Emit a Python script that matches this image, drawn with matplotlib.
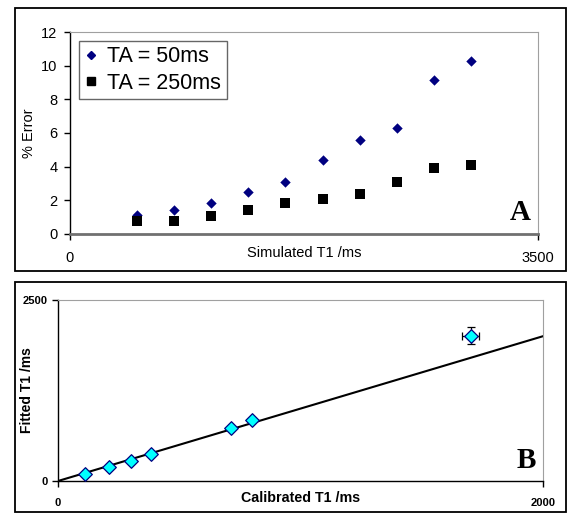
import matplotlib
matplotlib.use("Agg")
import matplotlib.pyplot as plt
from matplotlib.patches import Rectangle
from matplotlib.lines import Line2D

plt.rcParams['font.family'] = ['Liberation Sans', 'DejaVu Sans']

# ---------- Data ----------
sim_t1 = [500, 778, 1056, 1333, 1611, 1889, 2167, 2444, 2722, 3000]
err_ta50 = [1.10, 1.44, 1.87, 2.48, 3.11, 4.37, 5.57, 6.30, 9.17, 10.26]
err_ta250 = [0.75, 0.79, 1.04, 1.40, 1.85, 2.09, 2.36, 3.11, 3.90, 4.11]
series_labels = ["TA = 50ms", "TA = 250ms"]

cal_t1 = [113, 209, 302, 384, 715, 801, 1702]
fit_t1 = [101, 188, 275, 376, 734, 844, 2009]
cal_err = [0, 0, 0, 0, 0, 0, 35]
fit_err = [0, 0, 0, 0, 0, 0, 115]
line_x = [0, 2000]
line_y = [0, 2000]

W, H = 573, 514
fig = plt.figure(figsize=(W / 100, H / 100), dpi=100)
fig.patch.set_facecolor("white")


def fx(px):
    return px / W


def fy(py):
    return 1 - py / H


def frame(x0, y0, x1, y1):
    fig.add_artist(Rectangle((fx(x0), fy(y1)), fx(x1) - fx(x0), fy(y0) - fy(y1),
                             transform=fig.transFigure, fill=False,
                             edgecolor="black", linewidth=1.3, zorder=0))


frame(15, 8, 566, 271)
frame(15, 282, 566, 512)

# ---------- Panel A ----------
axA = fig.add_axes([fx(70), fy(234), fx(538) - fx(70), fy(32) - fy(234)])
axA.scatter(sim_t1, err_ta50, marker="D", s=28, color="#000080", zorder=3,
            linewidths=0)
axA.scatter(sim_t1, err_ta250, marker="s", s=58, color="black", zorder=3,
            linewidths=0)
axA.set_xlim(0, 3500)
axA.set_ylim(0, 12)
axA.set_xticks([0, 3500])
axA.set_yticks(range(0, 13, 2))
axA.tick_params(axis="both", direction="out", length=4, width=1,
                labelsize=10.5, colors="black")
axA.tick_params(axis="x", pad=8)
axA.tick_params(axis="y", pad=5)
for s in ["top", "right"]:
    axA.spines[s].set_color("#a0a0a0")
    axA.spines[s].set_linewidth(0.8)
axA.spines["bottom"].set_color("#707070")
axA.spines["bottom"].set_linewidth(2)
axA.spines["left"].set_color("black")
axA.spines["left"].set_linewidth(1)
axA.set_ylabel("% Error", fontsize=10.5)
axA.yaxis.set_label_coords(-0.073, 0.5)
axA.set_xlabel("Simulated T1 /ms", fontsize=10.5)
axA.xaxis.set_label_coords(0.5, -0.095)
axA.xaxis.label.set_verticalalignment("center")
handlesA = [
    Line2D([], [], marker="D", color="#000080", linestyle="none", markersize=4.5),
    Line2D([], [], marker="s", color="black", linestyle="none", markersize=6),
]
legA = axA.legend(handlesA, series_labels, loc="upper left",
                  bbox_to_anchor=(0.02, 0.955), fontsize=15.5, frameon=True,
                  fancybox=False, edgecolor="#404040", handlelength=0.6,
                  handletextpad=0.45, borderpad=0.25, labelspacing=0.25,
                  borderaxespad=0)
legA.get_frame().set_linewidth(1)
axA.text(0.985, 0.04, "A", transform=axA.transAxes, ha="right", va="bottom",
         fontsize=21, fontweight="bold", family="Liberation Serif")

# ---------- Panel B ----------
axB = fig.add_axes([fx(58), fy(481), fx(543) - fx(58), fy(300) - fy(481)])
axB.plot(line_x, line_y, color="black", linewidth=1.5, zorder=2)
axB.errorbar(cal_t1, fit_t1, xerr=cal_err, yerr=fit_err, fmt="none",
             ecolor="black", elinewidth=0.9, capsize=3, capthick=0.9, zorder=3)
axB.scatter(cal_t1, fit_t1, marker="D", s=48, facecolor="#00FFFF",
            edgecolor="#000080", linewidths=0.9, zorder=4)
axB.set_xlim(0, 2000)
axB.set_ylim(0, 2500)
axB.set_xticks([0, 2000])
axB.set_yticks([0, 2500])
axB.tick_params(axis="both", direction="out", length=4, width=1,
                labelsize=8, colors="black")
axB.tick_params(axis="x", pad=8)
for lab in axB.get_xticklabels() + axB.get_yticklabels():
    lab.set_fontweight("bold")
for s in ["top", "right"]:
    axB.spines[s].set_color("#a0a0a0")
    axB.spines[s].set_linewidth(0.8)
for s in ["bottom", "left"]:
    axB.spines[s].set_color("black")
    axB.spines[s].set_linewidth(1)
axB.set_ylabel("Fitted T1 /ms", fontsize=10, fontweight="bold")
axB.yaxis.set_label_coords(-0.05, 0.5)
axB.set_xlabel("Calibrated T1 /ms", fontsize=10.3, fontweight="bold")
axB.xaxis.set_label_coords(0.5, -0.095)
axB.xaxis.label.set_verticalalignment("center")
axB.text(0.985, 0.04, "B", transform=axB.transAxes, ha="right", va="bottom",
         fontsize=21, fontweight="bold", family="Liberation Serif")

fig.savefig("out.png", dpi=100)
